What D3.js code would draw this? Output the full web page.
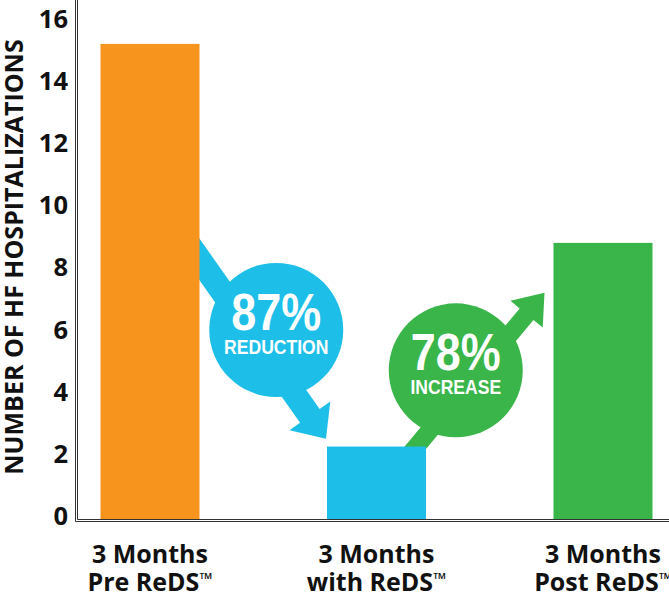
<!DOCTYPE html>
<html>
<head>
<meta charset="utf-8">
<script src="https://cdn.jsdelivr.net/npm/d3@7"></script>
<style>
  html, body { margin: 0; padding: 0; background: #fff; }
  svg { display: block; }
  .tick text { font-family: "Open Sans", sans-serif; font-weight: 700; }
</style>
</head>
<body>
<svg id="chart"></svg>
<script>
// chart data
var categories = ['Pre ReDS', 'with ReDS', 'Post ReDS'];
var labelLines = [['3 Months', 'Pre ReDS\u2122'], ['3 Months', 'with ReDS\u2122'], ['3 Months', 'Post ReDS\u2122']];
var hospitalizations = [15.2, 2.25, 8.8];
var yTicks = [0, 2, 4, 6, 8, 10, 12, 14, 16];
var changeValues = ['87%', '78%'];
var changeWords = ['REDUCTION', 'INCREASE'];

// layout
var width = 669;
var height = 594;
var barWidth = 99;

var colorScale = d3.scaleOrdinal()
  .domain(categories)
  .range(['#f7941d', '#1dbfe9', '#3ab54a']);

var x = d3.scalePoint().domain(categories).range([150, 603]);
var y = d3.scaleLinear().domain([0, 16]).range([516.5, 19]);

var svg = d3.select('#chart')
  .attr('width', width)
  .attr('height', height);

// arrow polygon from (x0,y0) to tip (x1,y1)
function arrowPath(x0, y0, x1, y1, shaft, headW, headL) {
  var dx = x1 - x0, dy = y1 - y0;
  var len = Math.hypot(dx, dy);
  var ux = dx / len, uy = dy / len;
  var px = -uy, py = ux;
  var bx = x1 - ux * headL, by = y1 - uy * headL;
  var pts = [
    [x0 + px * shaft / 2, y0 + py * shaft / 2],
    [bx + px * shaft / 2, by + py * shaft / 2],
    [bx + px * headW / 2, by + py * headW / 2],
    [x1, y1],
    [bx - px * headW / 2, by - py * headW / 2],
    [bx - px * shaft / 2, by - py * shaft / 2],
    [x0 - px * shaft / 2, y0 - py * shaft / 2]
  ];
  return d3.line()(pts) + 'Z';
}

// annotation geometry, anchored on the scales
var c0 = categories[0], c1 = categories[1], c2 = categories[2];
var notes = [
  {
    color: colorScale(c1),
    from: [x(c0) + barWidth / 2 - 15, y(8.95)],
    to: [x(c1) - barWidth / 2 - 1, y(2.5)],
    shaft: 24, headW: 50, headL: 28,
    cx: (x(c0) + x(c1)) / 2 + 13, cy: y(6.0)
  },
  {
    color: colorScale(c2),
    from: [x(c1) + barWidth / 2 - 29, y(1.5)],
    to: [x(c2) - barWidth / 2 - 9, y(7.2)],
    shaft: 18, headW: 42, headL: 28,
    cx: (x(c1) + x(c2)) / 2 - 34, cy: y(4.7)
  }
];

var noteG = svg.append('g').attr('class', 'notes');
notes.forEach(function(n, i) {
  noteG.append('path')
    .attr('d', arrowPath(n.from[0], n.from[1], n.to[0], n.to[1], n.shaft, n.headW, n.headL))
    .style('fill', n.color);
  noteG.append('circle')
    .attr('cx', n.cx)
    .attr('cy', n.cy)
    .attr('r', 67)
    .style('fill', n.color);
  noteG.append('text')
    .attr('transform', 'translate(' + n.cx + ',' + n.cy + ') scale(0.88,1)')
    .attr('text-anchor', 'middle')
    .style('font-family', '"Liberation Sans", Arial, sans-serif')
    .style('font-weight', 700)
    .style('font-size', '51px')
    .style('fill', '#fff')
    .text(changeValues[i]);
  noteG.append('text')
    .attr('transform', 'translate(' + n.cx + ',' + (n.cy + 24) + ') scale(0.9,1)')
    .attr('text-anchor', 'middle')
    .style('font-family', '"Liberation Sans", Arial, sans-serif')
    .style('font-weight', 700)
    .style('font-size', '19.5px')
    .style('fill', '#fff')
    .text(changeWords[i]);
});

// bars
var axisY = y(0) + 3;
svg.append('g')
  .selectAll('rect')
  .data(hospitalizations)
  .enter()
  .append('rect')
    .attr('x', function(d, i) { return x(categories[i]) - barWidth / 2; })
    .attr('y', function(d) { return y(d); })
    .attr('width', barWidth)
    .attr('height', function(d) { return axisY - y(d); })
    .style('fill', function(d, i) { return colorScale(categories[i]); });

// y axis labels
var yAxis = svg.append('g')
  .attr('transform', 'translate(77,0)')
  .call(d3.axisLeft(y).tickValues(yTicks).tickSize(0).tickPadding(9));
yAxis.select('.domain').remove();
yAxis.selectAll('.tick text')
  .style('font-size', '25.5px')
  .style('fill', '#111');

// double axis lines
svg.append('path')
  .attr('d', 'M75.5,0V521.5H' + width)
  .style('fill', 'none').style('stroke', '#333').style('stroke-width', 1);
svg.append('path')
  .attr('d', 'M77.5,0V519.5H' + width)
  .style('fill', 'none').style('stroke', '#333').style('stroke-width', 1);

// y title
svg.append('text')
  .attr('transform', 'translate(23,257) rotate(-90)')
  .attr('text-anchor', 'middle')
  .style('font-family', '"Open Sans", sans-serif')
  .style('font-weight', 700)
  .style('font-size', '25px')
  .style('fill', '#111')
  .text('NUMBER OF HF HOSPITALIZATIONS');

// category labels, with a small trademark sign
svg.append('g')
  .selectAll('text')
  .data(labelLines)
  .enter()
  .append('text')
    .attr('text-anchor', 'middle')
    .style('font-family', '"Open Sans", sans-serif')
    .style('font-weight', 700)
    .style('font-size', '25px')
    .style('fill', '#111')
    .each(function(lines, k) {
      var t = d3.select(this);
      var cx = x(categories[k]);
      lines.forEach(function(line, i) {
        var parts = line.split('\u2122');
        t.append('tspan')
          .attr('x', cx)
          .attr('y', 563 + i * 28)
          .text(parts[0]);
        if (parts.length > 1) {
          t.append('tspan')
            .attr('dy', -6)
            .style('font-size', '17px')
            .text('\u2122');
        }
      });
    });
</script>
</body>
</html>
